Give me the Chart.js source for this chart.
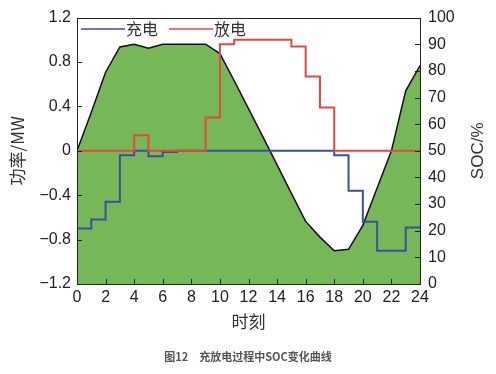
<!DOCTYPE html>
<html>
<head>
<meta charset="utf-8">
<script src="https://cdn.jsdelivr.net/npm/chart.js@4/dist/chart.umd.min.js"></script>
<style>
  html, body { margin: 0; padding: 0; background: #fff; }
  #wrap { position: relative; width: 496px; height: 374px; }
  #caption { position: absolute; left: 0; width: 496px; top: 348px; text-align: center;
    font: bold 11px "Noto Sans CJK SC", sans-serif; color: #555; }
</style>
</head>
<body>
<div id="wrap">
  <canvas id="c" width="496" height="374"></canvas>
  <div id="caption">图12　充放电过程中SOC变化曲线</div>
</div>
<script>
// ---- data ----
const hours = [0,1,2,3,4,5,6,7,8,9,10,11,12,13,14,15,16,17,18,19,20,21,22,23,24];
const chargeMW = [-0.70,-0.62,-0.46,-0.04,0,-0.05,-0.01,0,0,0,0,0,0,0,0,0,0,0,-0.04,-0.36,-0.64,-0.90,-0.90,-0.69,-0.69];
const dischargeMW = [0,0,0,0,0.14,0,0,0,0,0.30,0.96,1.00,1.00,1.00,1.00,0.94,0.67,0.39,0,0,0,0,0,0,0];
const socPct = [50,64.5,79.5,89,90,88.5,90,90,90,90,86.5,76.3,65.8,55.3,44.7,34,23.5,17.6,12.5,13,22,36,50,72.5,82];
const seriesNames = ['充电', '放电', 'SOC'];
const axisTitles = { x: '时刻', y: '功率/MW', y1: 'SOC/%' };

const pts = arr => hours.map((h, i) => ({ x: h, y: arr[i] }));
const TICKFONT = { family: 'Liberation Sans, Arial, sans-serif', size: 16 };
const CJK = 'Noto Sans CJK SC, sans-serif';

const frame = {
  id: 'frame',
  afterDatasetsDraw(chart) {
    const { ctx, chartArea: a, scales } = chart;
    ctx.save();
    ctx.strokeStyle = '#222';
    ctx.lineWidth = 1;
    ctx.beginPath();
    const L = 5;
    scales.x.ticks.forEach(t => {
      const px = Math.round(scales.x.getPixelForValue(t.value)) + 0.5;
      ctx.moveTo(px, a.bottom); ctx.lineTo(px, a.bottom - L);
    });
    scales.y.ticks.forEach(t => {
      const py = Math.round(scales.y.getPixelForValue(t.value)) + 0.5;
      ctx.moveTo(a.left, py); ctx.lineTo(a.left + L, py);
    });
    scales.y1.ticks.forEach(t => {
      const py = Math.round(scales.y1.getPixelForValue(t.value)) + 0.5;
      ctx.moveTo(a.right, py); ctx.lineTo(a.right - L, py);
    });
    ctx.stroke();
    ctx.strokeRect(Math.round(a.left) + 0.5, Math.round(a.top) + 0.5,
                   Math.round(a.right - a.left), Math.round(a.bottom - a.top));

    // legend (inside plot, top-left, horizontal)
    ctx.font = '16px ' + CJK;
    ctx.textBaseline = 'middle';
    ctx.textAlign = 'left';
    let x = a.left + 4;
    const yL = a.top + 11;
    [1, 2].forEach(di => {
      const ds = chart.data.datasets[di];
      ctx.strokeStyle = ds.borderColor;
      ctx.lineWidth = 1.5;
      ctx.beginPath(); ctx.moveTo(x, yL + 0.5); ctx.lineTo(x + 44, yL + 0.5); ctx.stroke();
      x += 45;
      ctx.fillStyle = '#333';
      ctx.fillText(ds.label, x, yL);
      x += ctx.measureText(ds.label).width + 11;
    });

    // right axis title, reading bottom-to-top
    ctx.fillStyle = '#333';
    ctx.font = '17px Liberation Sans, Arial, sans-serif';
    ctx.textAlign = 'center';
    ctx.textBaseline = 'middle';
    ctx.translate(478, (a.top + a.bottom) / 2);
    ctx.rotate(-Math.PI / 2);
    ctx.fillText(axisTitles.y1, 0, 0);
    ctx.restore();
  }
};

new Chart(document.getElementById('c'), {
  type: 'line',
  data: {
    datasets: [
      { label: seriesNames[2], data: pts(socPct), yAxisID: 'y1', order: 3,
        borderColor: '#111', borderWidth: 1.5, backgroundColor: '#76b758',
        fill: 'start', pointRadius: 0, tension: 0 },
      { label: seriesNames[0], data: pts(chargeMW), yAxisID: 'y', order: 2,
        borderColor: '#3b4f9f', backgroundColor: '#3b4f9f', borderWidth: 2,
        stepped: 'before', pointRadius: 0, fill: false },
      { label: seriesNames[1], data: pts(dischargeMW), yAxisID: 'y', order: 1,
        borderColor: '#e8473e', backgroundColor: '#e8473e', borderWidth: 2,
        stepped: 'before', pointRadius: 0, fill: false }
    ]
  },
  options: {
    responsive: false,
    animation: false,
    layout: { padding: { top: 17, left: 0, right: 0, bottom: 0 } },
    plugins: {
      tooltip: { enabled: false },
      legend: { display: false }
    },
    scales: {
      x: {
        type: 'linear', min: 0, max: 24,
        grid: { display: false, drawTicks: false },
        border: { display: false },
        ticks: { stepSize: 2, color: '#222', font: TICKFONT, padding: 4, maxRotation: 0 },
        title: { display: true, text: axisTitles.x, color: '#333',
                 font: { family: CJK, size: 17 }, padding: { top: 0, bottom: 42 } },
        afterFit(s) { s.height = 90; }
      },
      y: {
        position: 'left', min: -1.2, max: 1.2,
        grid: { display: false, drawTicks: false },
        border: { display: false },
        ticks: { stepSize: 0.4, color: '#222', font: TICKFONT, padding: 6,
                 callback: v => { const r = Math.round(v * 10) / 10; return r === 0 ? '0' : r.toFixed(1).replace('-', '−'); } },
        title: { display: true, text: axisTitles.y, color: '#333',
                 font: { family: CJK, size: 17 }, padding: { top: 7, bottom: 0 } },
        afterFit(s) { s.width = 77; }
      },
      y1: {
        position: 'right', min: 0, max: 100,
        grid: { display: false, drawTicks: false },
        border: { display: false },
        ticks: { stepSize: 10, color: '#222', font: TICKFONT, padding: 8 },
        afterFit(s) { s.width = 76; }
      }
    }
  },
  plugins: [frame]
});
</script>
</body>
</html>
